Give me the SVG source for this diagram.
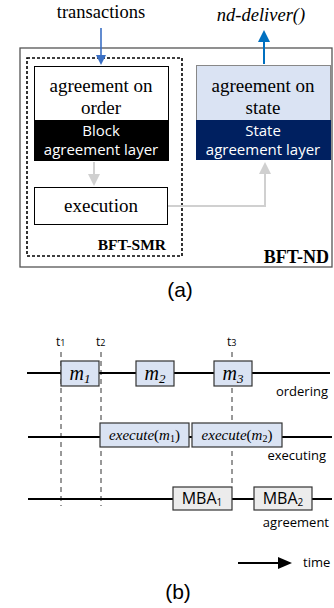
<svg xmlns="http://www.w3.org/2000/svg" width="334" height="608" viewBox="0 0 334 608">
<defs>
<style>
.serif{font-family:"Liberation Serif","Times New Roman",serif;}
.sans{font-family:"Liberation Sans",Arial,sans-serif;}
.cal{font-family:"Open Sans","Liberation Sans",sans-serif;}
.tl{stroke:#000;stroke-width:2;fill:none;}
.dash{stroke:#333;stroke-width:1;stroke-dasharray:5,4;fill:none;}
.mbox{fill:#dae3f3;stroke:#333;stroke-width:1.2;}
.gbox{fill:#ececec;stroke:#333;stroke-width:1.2;}
</style>
<marker id="blueHead" markerWidth="10" markerHeight="10" refX="5" refY="5" orient="auto" markerUnits="userSpaceOnUse"><path d="M0,0 L10,5 L0,10 Z" fill="#3a6fc4"/></marker>
<marker id="blueHead2" markerWidth="12" markerHeight="12" refX="6" refY="6" orient="auto" markerUnits="userSpaceOnUse"><path d="M0,0 L12,6 L0,12 Z" fill="#0070c0"/></marker>
<marker id="grayHead" markerWidth="12" markerHeight="12" refX="6" refY="6" orient="auto" markerUnits="userSpaceOnUse"><path d="M0,0 L12,6 L0,12 Z" fill="#d0d0d0"/></marker>
<marker id="blackHead" markerWidth="14" markerHeight="12" refX="7" refY="6" orient="auto" markerUnits="userSpaceOnUse"><path d="M0,0 L14,6 L0,12 Z" fill="#000"/></marker>
</defs>

<g id="part-a">
<g id="bft-nd">
<rect x="20" y="48" width="312" height="219" fill="#fff" stroke="#555" stroke-width="1.3"/>
<text class="serif" x="329" y="263" font-size="18" font-weight="bold" text-anchor="end">BFT-ND</text>
</g>
<g id="bft-smr">
<rect x="27" y="58" width="155" height="198" fill="none" stroke="#000" stroke-width="1.6" stroke-dasharray="3,2"/>
<text class="serif" x="166" y="250" font-size="15.5" font-weight="bold" text-anchor="end">BFT-SMR</text>
</g>
<g id="agreement-order">
<rect x="34.5" y="66.5" width="134" height="54" fill="#fff" stroke="#000" stroke-width="1"/>
<rect x="34" y="120" width="135" height="41" fill="#000"/>
<text class="serif" x="101" y="92" font-size="19" text-anchor="middle">agreement on</text>
<text class="serif" x="101" y="114" font-size="19" text-anchor="middle">order</text>
<text class="cal" x="101" y="136" font-size="15" fill="#fff" text-anchor="middle">Block</text>
<text class="cal" x="101" y="155" font-size="15" fill="#fff" text-anchor="middle">agreement layer</text>
</g>
<g id="agreement-state">
<rect x="196.5" y="65.5" width="134" height="55" fill="#dae3f3" stroke="#888" stroke-width="1"/>
<rect x="196" y="120" width="135" height="40" fill="#002060"/>
<text class="serif" x="263" y="92" font-size="19" text-anchor="middle">agreement on</text>
<text class="serif" x="263" y="114" font-size="19" text-anchor="middle">state</text>
<text class="cal" x="263" y="136" font-size="15" fill="#fff" text-anchor="middle">State</text>
<text class="cal" x="263" y="155" font-size="15" fill="#fff" text-anchor="middle">agreement layer</text>
</g>
<g id="execution">
<rect x="34.5" y="187.5" width="133" height="37" fill="#fff" stroke="#000" stroke-width="1"/>
<text class="serif" x="101" y="212" font-size="19" text-anchor="middle">execution</text>
</g>
<g id="labels-a">
<text class="serif" x="101" y="18" font-size="18.5" text-anchor="middle">transactions</text>
<text class="serif" x="261" y="21" font-size="18.5" font-style="italic" text-anchor="middle">nd-deliver()</text>
<text class="sans" x="180" y="297" font-size="21" text-anchor="middle">(a)</text>
</g>
<g id="connectors-a">
<line x1="101" y1="28" x2="101" y2="60" stroke="#3a6fc4" stroke-width="1.6" marker-end="url(#blueHead)"/>
<line x1="264" y1="64" x2="264" y2="36" stroke="#0070c0" stroke-width="2" marker-end="url(#blueHead2)"/>
<line x1="94" y1="162" x2="94" y2="180" stroke="#d0d0d0" stroke-width="2" marker-end="url(#grayHead)"/>
<polyline points="168,206 265,206 265,170" fill="none" stroke="#d0d0d0" stroke-width="2"/>
<line x1="265" y1="172" x2="265" y2="168" stroke="#d0d0d0" stroke-width="2" marker-end="url(#grayHead)"/>
</g>
</g>

<g id="part-b">
<g id="connectors-b">
<line class="dash" x1="61" y1="352" x2="61" y2="506"/>
<line class="dash" x1="101" y1="352" x2="101" y2="506"/>
<line class="dash" x1="232" y1="352" x2="232" y2="487"/>
<line class="tl" x1="27" y1="373" x2="330" y2="373"/>
<line class="tl" x1="28" y1="437" x2="332" y2="437"/>
<line class="tl" x1="28" y1="499" x2="332" y2="499"/>
<line x1="238" y1="563" x2="285" y2="563" stroke="#000" stroke-width="2" marker-end="url(#blackHead)"/>
</g>
<g id="ticks">
<text class="cal" x="56" y="346" font-size="12">t<tspan font-size="9">1</tspan></text>
<text class="cal" x="96" y="346" font-size="12">t<tspan font-size="9">2</tspan></text>
<text class="cal" x="227" y="346" font-size="12">t<tspan font-size="9">3</tspan></text>
</g>
<g id="m1">
<rect class="mbox" x="61" y="361" width="38" height="25"/>
<text class="serif" x="80" y="380" font-size="20" font-style="italic" text-anchor="middle">m<tspan font-size="13" dy="3">1</tspan></text>
</g>
<g id="m2">
<rect class="mbox" x="136" y="361" width="38" height="25"/>
<text class="serif" x="155" y="380" font-size="20" font-style="italic" text-anchor="middle">m<tspan font-size="13" dy="3">2</tspan></text>
</g>
<g id="m3">
<rect class="mbox" x="214" y="361" width="38" height="25"/>
<text class="serif" x="233" y="380" font-size="20" font-style="italic" text-anchor="middle">m<tspan font-size="13" dy="3">3</tspan></text>
</g>
<g id="exec-m1">
<rect class="mbox" x="100" y="423" width="89" height="24"/>
<text class="serif" x="144.5" y="440" font-size="15" text-anchor="middle"><tspan font-style="italic">execute</tspan>(<tspan font-style="italic">m</tspan><tspan font-size="10" dy="2">1</tspan><tspan dy="-2">)</tspan></text>
</g>
<g id="exec-m2">
<rect class="mbox" x="192" y="423" width="90" height="24"/>
<text class="serif" x="237" y="440" font-size="15" text-anchor="middle"><tspan font-style="italic">execute</tspan>(<tspan font-style="italic">m</tspan><tspan font-size="10" dy="2">2</tspan><tspan dy="-2">)</tspan></text>
</g>
<g id="mba1">
<rect class="gbox" x="173" y="487" width="59" height="23"/>
<text class="cal" x="202" y="504" font-size="16" text-anchor="middle">MBA<tspan font-size="10" dy="2">1</tspan></text>
</g>
<g id="mba2">
<rect class="gbox" x="254" y="487" width="58" height="23"/>
<text class="cal" x="283" y="504" font-size="16" text-anchor="middle">MBA<tspan font-size="10" dy="2">2</tspan></text>
</g>
<g id="labels-b">
<text class="cal" x="328" y="396" font-size="13" text-anchor="end">ordering</text>
<text class="cal" x="326" y="460" font-size="13" text-anchor="end">executing</text>
<text class="cal" x="329" y="527" font-size="13" text-anchor="end">agreement</text>
<text class="cal" x="303" y="567" font-size="13">time</text>
<text class="sans" x="178" y="599" font-size="21" text-anchor="middle">(b)</text>
</g>
</g>
</svg>
